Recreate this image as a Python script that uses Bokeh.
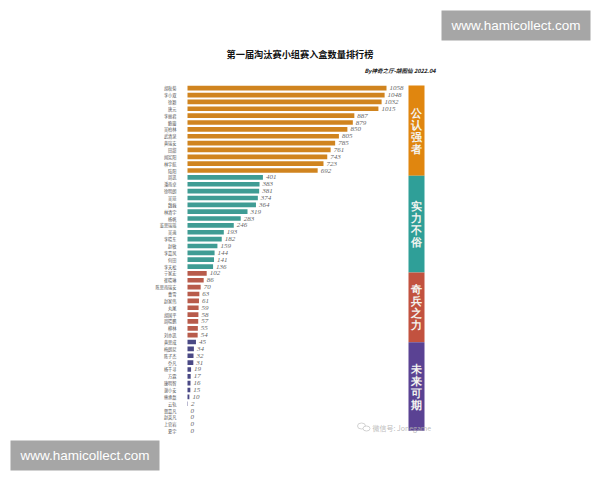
from bokeh.plotting import figure
from bokeh.models import Range1d, Label, ColumnDataSource, LinearAxis, FixedTicker, BoxAnnotation
from bokeh.embed import file_html
from bokeh.resources import INLINE

title = "第一届淘汰赛小组赛入盒数量排行榜"
subtitle = "By神奇之厅-胡图仙 2022.04"
names = ["胡秋菊","李小双","徐颖","唐元","李丽君","鲍璇","吴柏林","武清泉","黄瑞安","田甜","闻宪阳","林宇航","陆阳",
         "周凯","潘雨卓","徐明朗","吴琼","魏巍","林清宇","杨帆","董思瑞瑶","吴迪","李晓东","赵敏","李嘉风","何田","李天松",
         "宁家宏","崔晓琳","陈思雨瑞安","曹雪","赵家伟","丸尾","胡国平","周晓鹏","柳林","刘亦凯",
         "黄思成","梅朗尼","陈子杰","乔凡","杨千寻","方霖","康明智","谢小安","熊承磊","云轨","贺嘉凡","赵英凡","上官岩","夏宇"]
values = [1058,1048,1032,1015,887,879,850,805,785,761,743,723,692,
          401,383,381,374,364,319,283,246,193,182,159,144,141,136,
          102,86,70,63,61,59,58,57,55,54,
          45,34,32,31,19,17,16,15,10,2,0,0,0,0]
group_names = ["公认强者","实力不俗","奇兵之力","未来可期"]
group_counts = [13,14,10,14]
group_tops = [-0.4, 12.75, 26.85, 37.05]
group_bottoms = [12.75, 26.85, 37.05, 49.95]
bar_colors = ["#D0841F","#3F9C94","#B85B4B","#4A4985"]
band_colors = ["#E0860F","#2F9F98","#C2523F","#5A4293"]

W, H = 592, 472
PX_PER_UNIT = 199/1058
PX_PER_ROW = 6.86
X0, Y0 = 187, 87.7

xr = Range1d(-X0/PX_PER_UNIT, (W-X0)/PX_PER_UNIT)
yr = Range1d((H-Y0)/PX_PER_ROW, -Y0/PX_PER_ROW)
p = figure(width=W, height=H, x_range=xr, y_range=yr, output_backend="svg", toolbar_location=None,
           min_border=0, outline_line_color=None, x_axis_type=None, y_axis_type=None)
p.grid.visible = False
p.background_fill_color = "white"
p.border_fill_color = "white"

rows = list(range(len(values)))
colors = [c for c, n in zip(bar_colors, group_counts) for _ in range(n)]
labels = [str(v) for v in values]
src = ColumnDataSource(dict(y=rows, v=values, c=colors, t=labels))
p.hbar(y="y", left=0, right="v", height=0.68, fill_color="c", line_color=None, source=src)
p.text(x="v", y="y", text="t", source=src, x_offset=3, text_font_size="7px", text_font_style="italic",
       text_color="#666666", text_baseline="middle", text_font="Liberation Sans")

ax = LinearAxis(ticker=FixedTicker(ticks=rows), major_label_overrides=dict(zip(rows, names)),
                fixed_location=0, axis_line_color=None, major_tick_line_color=None, minor_tick_line_color=None,
                major_label_text_font_size="4.2px", major_label_text_color="#555555",
                major_label_text_font="Noto Sans CJK SC", major_label_standoff=5)
p.add_layout(ax, "left")

BL, BR = (408-187)/PX_PER_UNIT, (424-187)/PX_PER_UNIT
p.quad(left=BL, right=BR, top=group_tops, bottom=group_bottoms, fill_color=band_colors, line_color=None)
band_mid = [130, 223, 306.5, 386]
gy = [(m-87.7)/PX_PER_ROW for m in band_mid]
p.text(x=[(BL+BR)/2]*4, y=gy, text=["\n".join(g) for g in group_names], text_align="center", text_baseline="middle",
       text_color="#F4F4F0", text_font_size="11px", text_font_style="bold", text_font="Noto Sans CJK SC", text_line_height=1.0)

def label(x, y, text, size, color="#111111", style="bold", align="left", font="Noto Sans CJK SC", alpha=1.0):
    # x, y are page pixels of the reference
    p.add_layout(Label(x=x, y=H-y, x_units="screen", y_units="screen", text=text, text_font_size=size,
                       text_color=color, text_font_style=style, text_align=align, text_baseline="middle",
                       text_font=font, text_alpha=alpha))

label(299.5, 53.5, title, "9.2px", align="center")
label(435, 70, subtitle, "5.6px", style="bold italic", align="right", color="#222222")
label(372, 427, "微信号: Jonegame", "7px", color="#b4b4b4", style="normal", alpha=0.9)
p.ellipse(x=[(361-187)/PX_PER_UNIT, (366-187)/PX_PER_UNIT], y=[(425.5-87.7)/PX_PER_ROW, (428-87.7)/PX_PER_ROW],
          width=[8/PX_PER_UNIT, 7/PX_PER_UNIT], height=[6/PX_PER_ROW, 5/PX_PER_ROW],
          fill_color="white", line_color="#c8c8c8", line_width=0.8)

for l, r, t, b, tx in [(441, 590, 10, 40, 515.5), (10, 159, 440, 470, 84.5)]:
    p.add_layout(BoxAnnotation(left=l, right=r, top=H-t, bottom=H-b, left_units="screen", right_units="screen",
                               top_units="screen", bottom_units="screen", fill_color="#a6a6a6", fill_alpha=1, line_color=None))
    label(tx, (t+b)/2, "www.hamicollect.com", "13.5px", color="white", style="normal", align="center", font="Liberation Sans")

open("out.html", "w").write(file_html(p, INLINE))
